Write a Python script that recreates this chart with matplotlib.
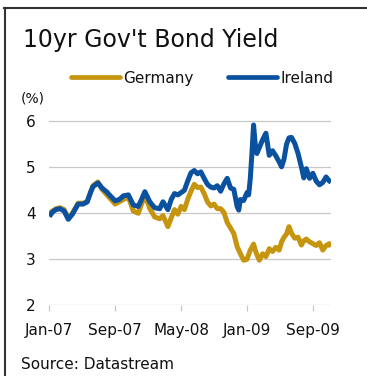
import matplotlib
matplotlib.use("Agg")
import matplotlib.pyplot as plt
from matplotlib.lines import Line2D

# Months elapsed since January 2007
months = [0, 0.4, 0.8, 1.3, 1.8, 2.3, 2.8, 3.5, 4.1, 4.6, 5.0, 5.3, 5.9, 6.4,
          7.0, 7.4, 8.0, 8.5, 9.0, 9.6, 10.2, 10.8, 11.2, 11.6, 12.2, 12.8,
          13.4, 13.8, 14.4, 14.8,
          15.2, 15.6, 16.0, 16.4, 16.8, 17.2, 17.6, 18.0, 18.4, 18.8, 19.2,
          19.6, 20.0, 20.4, 20.8, 21.2, 21.6, 22.0, 22.4, 22.8, 23.0, 23.2,
          23.6, 24.0, 24.2, 24.4, 24.6, 24.8, 25.0, 25.2, 25.5, 25.9, 26.3,
          26.7, 27.1, 27.5, 27.9, 28.2, 28.5, 28.8, 29.1, 29.4, 29.8, 30.2,
          30.6, 30.9, 31.2, 31.6, 32.0, 32.4, 32.8, 33.2, 33.6, 34.0, 34.2]

germany = [4.00, 4.05, 4.10, 4.12, 4.08, 3.90, 4.00, 4.22, 4.22, 4.25, 4.45,
           4.60, 4.68, 4.52, 4.40, 4.32, 4.20, 4.25, 4.30, 4.35, 4.05, 4.00,
           4.20, 4.40, 4.10, 3.92, 3.88, 3.95, 3.71, 3.90,
           4.08, 3.98, 4.15, 4.08, 4.30, 4.48, 4.63, 4.56, 4.57, 4.43, 4.25,
           4.16, 4.20, 4.10, 4.10, 4.02, 3.80, 3.68, 3.56, 3.28, 3.20, 3.12,
           2.98, 3.00, 3.10, 3.20, 3.26, 3.33, 3.20, 3.10, 2.98, 3.12, 3.06,
           3.23, 3.17, 3.26, 3.20, 3.38, 3.48, 3.55, 3.71, 3.57, 3.46, 3.48,
           3.31, 3.40, 3.44, 3.38, 3.34, 3.30, 3.36, 3.20, 3.30, 3.34, 3.27]

ireland = [3.93, 4.03, 4.08, 4.10, 4.05, 3.87, 3.98, 4.20, 4.20, 4.25, 4.45,
           4.58, 4.66, 4.55, 4.46, 4.38, 4.27, 4.30, 4.38, 4.40, 4.18, 4.15,
           4.30, 4.47, 4.25, 4.12, 4.10, 4.25, 4.08, 4.30,
           4.43, 4.40, 4.45, 4.50, 4.70, 4.88, 4.93, 4.86, 4.90, 4.76, 4.63,
           4.57, 4.55, 4.60, 4.48, 4.64, 4.76, 4.55, 4.52, 4.15, 4.07, 4.30,
           4.28, 4.45, 4.40, 4.75, 5.30, 5.92, 5.50, 5.30, 5.43, 5.60, 5.74,
           5.26, 5.36, 5.25, 5.12, 5.01, 5.18, 5.50, 5.64, 5.65, 5.52, 5.30,
           5.01, 4.77, 4.97, 4.76, 4.87, 4.70, 4.62, 4.67, 4.79, 4.70, 4.68]

tick_months = [0, 8, 16, 24, 32]
tick_labels = ["Jan-07", "Sep-07", "May-08", "Jan-09", "Sep-09"]
y_ticks = [2, 3, 4, 5, 6]

GOLD = "#C6950F"
BLUE = "#0A52A0"
GRID = "#C8C8C8"

plt.rcParams["font.family"] = ["DejaVu Sans"]

W, H = 367, 376
fig = plt.figure(figsize=(W / 100, H / 100), dpi=100)


def fx(px):
    return px / W


def fy(py):
    return 1 - py / H


ax = fig.add_axes([fx(49.3), fy(305.3), fx(331) - fx(49.3), fy(112.1) - fy(305.3)])

ax.plot(months, germany, color=GOLD, lw=3.6, solid_capstyle="butt",
        solid_joinstyle="round", zorder=3)
ax.plot(months, ireland, color=BLUE, lw=3.6, solid_capstyle="butt",
        solid_joinstyle="round", zorder=4)

ax.set_xlim(0, 34.2)
ax.set_ylim(2, 6.2)
ax.set_yticks(y_ticks)
ax.set_yticklabels([str(v) for v in y_ticks], fontsize=11)
ax.set_xticks(tick_months)
ax.set_xticklabels(tick_labels, fontsize=11)
ax.yaxis.grid(True, color=GRID, lw=0.9)
ax.set_axisbelow(True)
for s in ax.spines.values():
    s.set_visible(False)
ax.tick_params(axis="y", length=0, pad=10, colors="#111111")
ax.tick_params(axis="x", length=4, width=0.9, color=GRID, pad=9,
               labelcolor="#111111")

# Title
fig.text(fx(22.7), fy(47), "10yr Gov't Bond Yield", fontsize=17,
         va="baseline", ha="left", color="#111111")

# Legend
for x0, x1, col, label in [(70.7, 120, GOLD, "Germany"),
                           (228, 277, BLUE, "Ireland")]:
    fig.add_artist(Line2D([fx(x0), fx(x1)], [fy(77.3), fy(77.3)],
                          transform=fig.transFigure, color=col, lw=3.4,
                          solid_capstyle="round"))
    fig.text(fx(x1 + 3), fy(83.3), label, fontsize=11, va="baseline",
             ha="left", color="#111111")

# Unit label
fig.text(fx(21), fy(103), "(%)", fontsize=10, va="baseline", ha="left",
         color="#111111")

# Source note
fig.text(fx(21), fy(369), "Source: Datastream", fontsize=11, va="baseline",
         ha="left", color="#111111")

# Panel frame
fig.add_artist(Line2D([fx(4), 1.0], [fy(7.5), fy(7.5)],
                      transform=fig.transFigure, color="#333333", lw=1.5))
fig.add_artist(Line2D([fx(4.5), fx(4.5)], [fy(7.5), 0.0],
                      transform=fig.transFigure, color="#333333", lw=1.5))

fig.savefig("out.png", dpi=100)
